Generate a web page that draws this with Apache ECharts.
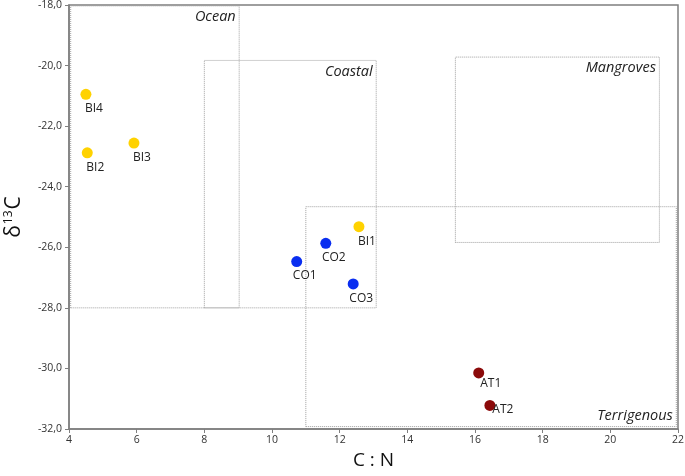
<!DOCTYPE html>
<html>
<head>
<meta charset="utf-8">
<script src="https://cdn.jsdelivr.net/npm/echarts@6/dist/echarts.min.js"></script>
<style>html,body{margin:0;padding:0;background:#fff}#c{width:685px;height:476px}</style>
</head>
<body>
<div id="c"></div>
<script>
// ---- data ----
const biNames = ['BI4', 'BI2', 'BI3', 'BI1'];
const biCN = [4.50, 4.54, 5.92, 12.57];
const biD13C = [-20.95, -22.88, -22.56, -25.32];

const coNames = ['CO1', 'CO2', 'CO3'];
const coCN = [10.73, 11.59, 12.40];
const coD13C = [-26.47, -25.87, -27.21];

const atNames = ['AT1', 'AT2'];
const atCN = [16.11, 16.44];
const atD13C = [-30.15, -31.22];

// source boxes: name, C:N min, C:N max, d13C min, d13C max
const boxNames = ['Ocean', 'Coastal', 'Mangroves', 'Terrigenous'];
const boxCNmin = [4.05, 8.0, 15.42, 11.0];
const boxCNmax = [9.03, 13.08, 21.45, 21.95];
const boxD13Cmin = [-28.0, -28.0, -25.84, -31.92];
const boxD13Cmax = [-18.03, -19.83, -19.72, -24.66];

const xTicks = [4, 6, 8, 10, 12, 14, 16, 18, 20, 22];
const yTicks = [-32, -30, -28, -26, -24, -22, -20, -18];

// ---- chart ----
const chart = echarts.init(document.getElementById('c'));
const FONT = 'Open Sans';

function pts(xs, ys, names) {
  return xs.map((x, i) => ({ value: [x, ys[i]], name: names[i] }));
}
const labelOffsets = { AT1: [12, -3], AT2: [13, -9] };
function ptSeries(xs, ys, names, color) {
  return {
    type: 'scatter',
    symbolSize: 11,
    itemStyle: { color: color, opacity: 1 },
    data: pts(xs, ys, names).map(d => ({
      ...d,
      label: { offset: labelOffsets[d.name] || [8, 1] }
    })),
    label: {
      show: true,
      position: 'bottom',
      distance: 2,
      formatter: p => p.name,
      fontFamily: FONT,
      fontSize: 12,
      color: '#222'
    },
    z: 5
  };
}

const boxData = boxNames.map((n, i) => [
  {
    name: n,
    xAxis: boxCNmin[i],
    yAxis: boxD13Cmin[i],
    label: { position: n === 'Terrigenous' ? 'insideBottomRight' : 'insideTopRight' }
  },
  { xAxis: boxCNmax[i], yAxis: boxD13Cmax[i] }
]);

chart.setOption({
  animation: false,
  backgroundColor: '#fff',
  grid: {
    left: 69, right: 7, top: 5, bottom: 47,
    outerBoundsMode: 'none',
    containLabel: false,
    show: true, borderColor: '#7f7f7f', borderWidth: 1.5, backgroundColor: 'transparent'
  },
  xAxis: {
    type: 'value',
    min: xTicks[0], max: xTicks[xTicks.length - 1], interval: 2,
    name: 'C : N',
    nameLocation: 'middle',
    nameGap: 22,
    nameTextStyle: { fontFamily: FONT, fontSize: 19, color: '#111' },
    axisLine: { show: true, lineStyle: { color: '#7f7f7f', width: 1.5 } },
    axisTick: { show: true, length: 4, lineStyle: { color: '#7f7f7f' } },
    axisLabel: { fontFamily: FONT, fontSize: 10.5, color: '#333', margin: 6 },
    splitLine: { show: false }
  },
  yAxis: {
    type: 'value',
    min: yTicks[0], max: yTicks[yTicks.length - 1], interval: 2,
    name: '{d|δ}{s|13}{d|C}',
    nameLocation: 'middle',
    nameRotate: 90,
    nameGap: 44,
    nameTextStyle: {
      rich: {
        d: { fontFamily: FONT, fontSize: 21, color: '#111' },
        s: { fontFamily: FONT, fontSize: 12, color: '#111', verticalAlign: 'top', padding: [0, 1, 10, 1] }
      }
    },
    axisLine: { show: true, lineStyle: { color: '#7f7f7f', width: 1.5 } },
    axisTick: { show: true, length: 4, lineStyle: { color: '#7f7f7f' } },
    axisLabel: {
      fontFamily: FONT, fontSize: 10.5, color: '#333', margin: 7,
      formatter: v => v.toFixed(1).replace('.', ',')
    },
    splitLine: { show: false }
  },
  series: [
    {
      type: 'scatter',
      data: [],
      silent: true,
      markArea: {
        silent: true,
        itemStyle: { color: 'rgba(0,0,0,0)', borderColor: '#a0a0a0', borderWidth: 1, borderType: 'dotted' },
        label: {
          show: true,
          fontFamily: FONT, fontSize: 14.5, fontStyle: 'italic', color: '#222',
          distance: 4,
          formatter: p => p.name
        },
        data: boxData
      },
      z: 1
    },
    ptSeries(biCN, biD13C, biNames, '#FFD200'),
    ptSeries(coCN, coD13C, coNames, '#0A2EF0'),
    ptSeries(atCN, atD13C, atNames, '#8B0A0A')
  ]
});
</script>
</body>
</html>
